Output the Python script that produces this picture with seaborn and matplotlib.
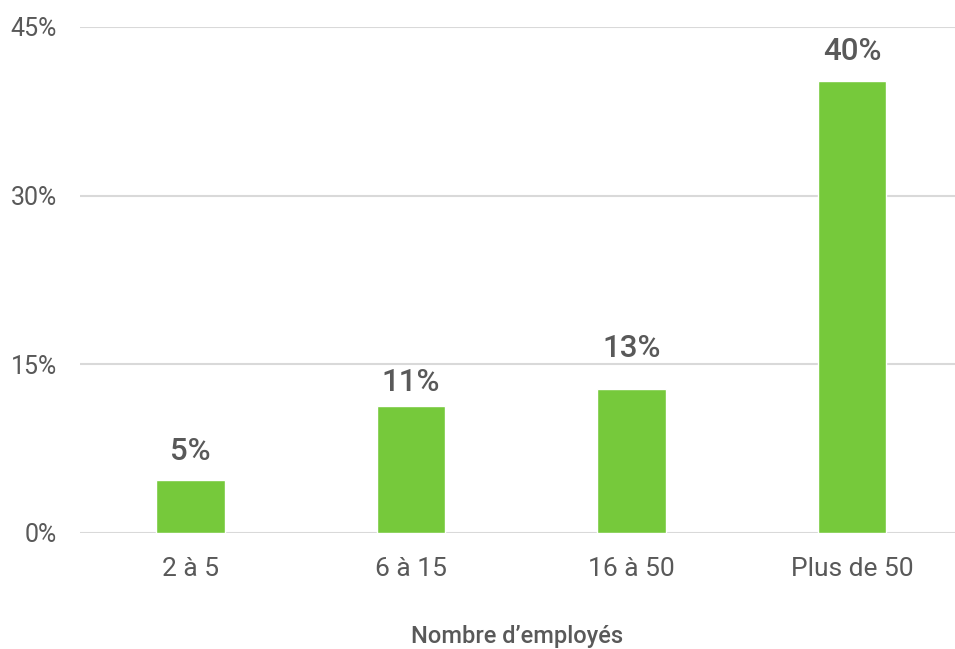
import matplotlib
matplotlib.use('Agg')
import matplotlib.pyplot as plt
import seaborn as sns
import pandas as pd

# data
categories = ['2 à 5', '6 à 15', '16 à 50', 'Plus de 50']
values = [4.7, 11.3, 12.8, 40.2]
labels = ['5%', '11%', '13%', '40%']
y_ticks = [0, 15, 30, 45]

# gap between bar top and its label (points); the 13% label sits above the gridline
label_gap = [10.5, 6.5, 18.5, 10.5]

sns.set_style('white')
plt.rcParams['font.family'] = ['Roboto', 'DejaVu Sans']

df = pd.DataFrame({'Taille': categories, 'Part': values})

fig = plt.figure(figsize=(9.55, 6.49), dpi=100)
ax = fig.add_axes([80 / 955, 116 / 649, 1 - 80 / 955, (533 - 27) / 649])

sns.barplot(data=df, x='Taille', y='Part', color='#76C93B', width=0.31,
            saturation=1, ax=ax, zorder=3)

# value labels above bars
for i, (v, lab) in enumerate(zip(values, labels)):
    ax.annotate(lab, (i, v), xytext=(0, label_gap[i]), textcoords='offset points',
                ha='center', va='bottom', fontsize=22.5, fontweight=500,
                color='#595959')

ax.set_ylim(0, 45)
ax.set_xlim(-0.5, 3.466)
ax.set_yticks(y_ticks)
ax.set_yticklabels([f'{t}%' for t in y_ticks])
ax.yaxis.grid(True, color='#D9D9D9', linewidth=1.5, zorder=0)
ax.xaxis.grid(False)
for s in ax.spines.values():
    s.set_visible(False)
ax.tick_params(axis='both', length=0, colors='#595959')
ax.tick_params(axis='y', pad=16.5, labelsize=18)
ax.tick_params(axis='x', pad=17, labelsize=19)
ax.set_ylabel('')
ax.set_xlabel('Nombre d’employés', fontsize=17, fontweight=500,
              color='#595959', labelpad=32)

fig.savefig('out.png', dpi=100)
